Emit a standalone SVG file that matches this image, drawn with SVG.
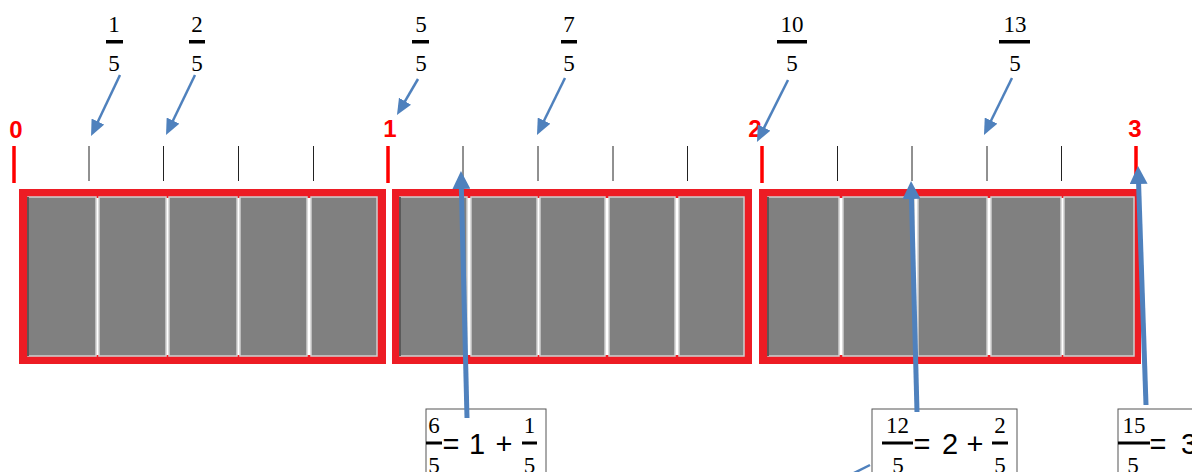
<svg xmlns="http://www.w3.org/2000/svg" width="1192" height="472" viewBox="0 0 1192 472">
<style>
.frame{fill:none;stroke:#ED1C24;stroke-width:9}
.cell{fill:#808080;stroke:#cfcfcf;stroke-width:1.5}
.shade{stroke:#3a3a3a;stroke-width:1.5}
.rtick{stroke:#FF0000;stroke-width:3.5}
.btick{stroke:#222;stroke-width:1}
.num{font-family:"Liberation Sans",Arial,sans-serif;font-weight:bold;font-size:24px;fill:#FF0000;text-anchor:middle}
.fr{font-family:"Liberation Serif","DejaVu Serif",serif;font-size:23px;fill:#000;text-anchor:middle}
.bar{fill:#000}
.eq{font-family:"Liberation Sans",Arial,sans-serif;font-size:29px;fill:#000;text-anchor:middle}
.box{fill:#fff;stroke:#555;stroke-width:1}
.dn{stroke:#4F81BD;stroke-width:2.5;fill:none;marker-end:url(#ah)}
.up{stroke:#4F81BD;stroke-width:5;fill:none;marker-end:url(#ahb)}
</style>
<defs>
<marker id="ah" markerUnits="userSpaceOnUse" viewBox="0 0 16 14" markerWidth="16" markerHeight="14" refX="11" refY="7" orient="auto"><path d="M0,0 L16,7 L0,14 z" fill="#4F81BD"/></marker>
<marker id="ahb" markerUnits="userSpaceOnUse" viewBox="0 0 18 18" markerWidth="18" markerHeight="18" refX="12" refY="9" orient="auto"><path d="M0,0 L18,9 L0,18 z" fill="#4F81BD"/></marker>
</defs>
<rect width="1192" height="472" fill="#fff"/>

<g id="bar1">
<rect class="frame" x="23.5" y="193.5" width="358" height="166"/>
<rect class="cell" x="28" y="197" width="68" height="159"/>
<rect class="cell" x="99" y="197" width="67" height="159"/>
<rect class="cell" x="169" y="197" width="68" height="159"/>
<rect class="cell" x="240" y="197" width="67" height="159"/>
<rect class="cell" x="311" y="197" width="66" height="159"/>
<line class="shade" x1="28" y1="197" x2="28" y2="356"/>
</g>
<g id="bar2">
<rect class="frame" x="396.5" y="193.5" width="351" height="166"/>
<rect class="cell" x="400" y="197" width="67" height="159"/>
<rect class="cell" x="471" y="197" width="66" height="159"/>
<rect class="cell" x="540" y="197" width="65" height="159"/>
<rect class="cell" x="609" y="197" width="66" height="159"/>
<rect class="cell" x="679" y="197" width="65" height="159"/>
<line class="shade" x1="400" y1="197" x2="400" y2="356"/>
</g>
<g id="bar3">
<rect class="frame" x="763.5" y="193.5" width="373" height="166"/>
<rect class="cell" x="768" y="197" width="71" height="159"/>
<rect class="cell" x="843" y="197" width="71" height="159"/>
<rect class="cell" x="918" y="197" width="69" height="159"/>
<rect class="cell" x="991" y="197" width="70" height="159"/>
<rect class="cell" x="1064" y="197" width="70" height="159"/>
<line class="shade" x1="768" y1="197" x2="768" y2="356"/>
</g>

<g id="ticks">
<line class="rtick" x1="14" y1="146" x2="14" y2="183"/>
<line class="rtick" x1="388" y1="146" x2="388" y2="183"/>
<line class="rtick" x1="762" y1="146" x2="762" y2="183"/>
<line class="rtick" x1="1136" y1="146" x2="1136" y2="183"/>
<line class="btick" x1="89" y1="146" x2="89" y2="181"/>
<line class="btick" x1="163.5" y1="146" x2="163.5" y2="181"/>
<line class="btick" x1="238.5" y1="146" x2="238.5" y2="181"/>
<line class="btick" x1="313.5" y1="146" x2="313.5" y2="181"/>
<line class="btick" x1="463" y1="146" x2="463" y2="181"/>
<line class="btick" x1="538" y1="146" x2="538" y2="181"/>
<line class="btick" x1="613" y1="146" x2="613" y2="181"/>
<line class="btick" x1="687.5" y1="146" x2="687.5" y2="181"/>
<line class="btick" x1="837.5" y1="146" x2="837.5" y2="181"/>
<line class="btick" x1="912" y1="146" x2="912" y2="181"/>
<line class="btick" x1="987" y1="146" x2="987" y2="181"/>
<line class="btick" x1="1061.5" y1="146" x2="1061.5" y2="181"/>
</g>

<g id="integers">
<text class="num" x="16" y="138">0</text>
<text class="num" x="390" y="137">1</text>
<text class="num" x="755" y="137">2</text>
<text class="num" x="1135" y="137">3</text>
</g>

<g id="frac-1-5"><text class="fr" x="114" y="32">1</text><rect class="bar" x="106" y="40" width="17" height="3.5"/><text class="fr" x="114" y="71">5</text></g>
<g id="frac-2-5"><text class="fr" x="197" y="32">2</text><rect class="bar" x="189" y="40" width="16" height="3.5"/><text class="fr" x="197" y="71">5</text></g>
<g id="frac-5-5"><text class="fr" x="421" y="32">5</text><rect class="bar" x="412" y="40" width="17" height="3.5"/><text class="fr" x="421" y="71">5</text></g>
<g id="frac-7-5"><text class="fr" x="569" y="32">7</text><rect class="bar" x="561" y="40" width="16" height="3.5"/><text class="fr" x="569" y="71">5</text></g>
<g id="frac-10-5"><text class="fr" x="792" y="32">10</text><rect class="bar" x="777" y="40" width="30" height="3.5"/><text class="fr" x="792" y="71">5</text></g>
<g id="frac-13-5"><text class="fr" x="1015" y="32">13</text><rect class="bar" x="999" y="40" width="31" height="3.5"/><text class="fr" x="1015" y="71">5</text></g>

<g id="box-6-5">
<rect class="box" x="426" y="409" width="120" height="70"/>
<text class="fr" x="434" y="433">6</text><rect class="bar" x="426" y="441.5" width="16" height="3"/><text class="fr" x="434" y="473">5</text>
<text class="eq" x="451" y="454">=</text><text class="eq" x="477" y="454">1</text><text class="eq" x="504" y="454">+</text>
<text class="fr" x="529.5" y="433">1</text><rect class="bar" x="522" y="441.5" width="15" height="3"/><text class="fr" x="529.5" y="473">5</text>
</g>
<g id="box-12-5">
<rect class="box" x="872" y="409" width="145" height="70"/>
<text class="fr" x="897.5" y="433">12</text><rect class="bar" x="882" y="441.5" width="31" height="3"/><text class="fr" x="898" y="473">5</text>
<text class="eq" x="922" y="454">=</text><text class="eq" x="950" y="454">2</text><text class="eq" x="975" y="454">+</text>
<text class="fr" x="1000" y="433">2</text><rect class="bar" x="992" y="441.5" width="16" height="3"/><text class="fr" x="1000" y="473">5</text>
</g>
<g id="box-15-5">
<rect class="box" x="1118" y="409" width="80" height="70"/>
<text class="fr" x="1134" y="433">15</text><rect class="bar" x="1118" y="441.5" width="32" height="3"/><text class="fr" x="1133" y="473">5</text>
<text class="eq" x="1158" y="454">=</text><text class="eq" x="1189" y="454">3</text>
</g>

<g id="connectors">
<line class="dn" x1="120" y1="75" x2="93.2" y2="131.5"/>
<line class="dn" x1="195" y1="75" x2="168.2" y2="130.5"/>
<line class="dn" x1="418" y1="79" x2="399.5" y2="110.7"/>
<line class="dn" x1="565" y1="78" x2="539.2" y2="130.5"/>
<line class="dn" x1="788" y1="80" x2="759.2" y2="137.5"/>
<line class="dn" x1="1012" y1="78" x2="986.2" y2="130.5"/>
<line class="up" x1="467" y1="418" x2="461.1" y2="177"/>
<line class="up" x1="917" y1="412" x2="911.2" y2="187"/>
<line class="up" x1="1146" y1="405" x2="1138.2" y2="172"/>
<line x1="870" y1="465" x2="850" y2="475" stroke="#4F81BD" stroke-width="2.5"/>
</g>
</svg>
